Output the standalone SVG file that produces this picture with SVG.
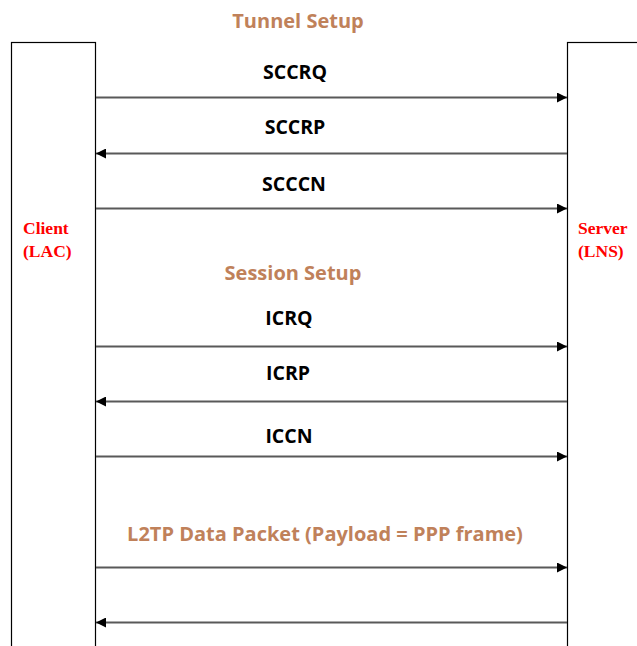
<svg xmlns="http://www.w3.org/2000/svg" width="637" height="646" viewBox="0 0 637 646">
  <style>
    .box { fill: #ffffff; stroke: #000000; stroke-width: 1.2; }
    .msg { stroke: #595959; stroke-width: 2; fill: none; }
    .lbl { font-family: "Open Sans", "Liberation Sans", sans-serif; font-weight: bold; font-size: 19.5px; fill: #000000; text-anchor: middle; }
    .phase { font-family: "Open Sans", "Liberation Sans", sans-serif; font-weight: bold; font-size: 20px; fill: #C0815A; text-anchor: middle; }
    .ent { font-family: "Liberation Serif", "Times New Roman", serif; font-weight: bold; font-size: 17.5px; fill: #FF0000; }
  </style>
  <defs>
    <marker id="head" viewBox="0 0 10 10" refX="10" refY="5" markerWidth="5" markerHeight="5" orient="auto" markerUnits="strokeWidth">
      <path d="M0,0 L10,5 L0,10 Z" fill="#000000"/>
    </marker>
  </defs>
  <rect width="637" height="646" fill="#ffffff"/>

  <!-- endpoints -->
  <g id="client">
    <rect class="box" x="11.5" y="42.5" width="84" height="620"/>
    <text class="ent" x="23" y="234">Client</text>
    <text class="ent" x="23" y="257">(LAC)</text>
  </g>
  <g id="server">
    <rect class="box" x="567.5" y="42.5" width="90" height="620"/>
    <text class="ent" x="578" y="234">Server</text>
    <text class="ent" x="578" y="257">(LNS)</text>
  </g>

  <!-- phase headings -->
  <g id="tunnel-setup"><text class="phase" x="298" y="28">Tunnel Setup</text></g>
  <g id="session-setup"><text class="phase" x="293" y="280">Session Setup</text></g>
  <g id="data-phase"><text class="phase" x="325" y="541">L2TP Data Packet (Payload = PPP frame)</text></g>

  <!-- message labels -->
  <g id="labels">
    <text class="lbl" x="295" y="79">SCCRQ</text>
    <text class="lbl" x="295" y="134">SCCRP</text>
    <text class="lbl" x="294" y="191">SCCCN</text>
    <text class="lbl" x="289" y="325">ICRQ</text>
    <text class="lbl" x="288" y="380">ICRP</text>
    <text class="lbl" x="289" y="443">ICCN</text>
  </g>

  <!-- messages -->
  <g id="connectors">
    <line class="msg" x1="96" y1="97.5" x2="567" y2="97.5" marker-end="url(#head)"/>
    <line class="msg" x1="567" y1="153.5" x2="96" y2="153.5" marker-end="url(#head)"/>
    <line class="msg" x1="96" y1="208.5" x2="567" y2="208.5" marker-end="url(#head)"/>
    <line class="msg" x1="96" y1="346.5" x2="567" y2="346.5" marker-end="url(#head)"/>
    <line class="msg" x1="567" y1="401.5" x2="96" y2="401.5" marker-end="url(#head)"/>
    <line class="msg" x1="96" y1="456.5" x2="567" y2="456.5" marker-end="url(#head)"/>
    <line class="msg" x1="96" y1="567.5" x2="567" y2="567.5" marker-end="url(#head)"/>
    <line class="msg" x1="567" y1="622.5" x2="96" y2="622.5" marker-end="url(#head)"/>
  </g>
</svg>
